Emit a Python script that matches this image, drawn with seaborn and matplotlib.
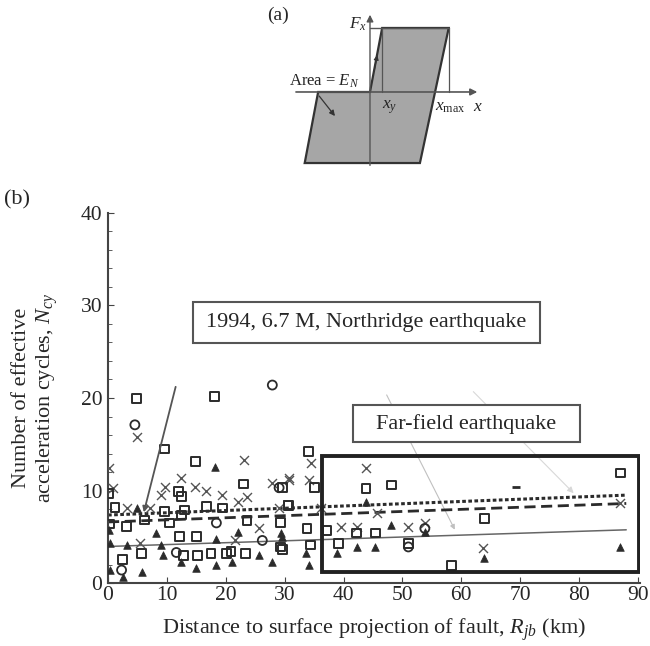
import matplotlib
matplotlib.use("Agg")
import matplotlib.pyplot as plt
import seaborn as sns
from matplotlib.patches import Rectangle, Polygon

# --- data (panel b) ---
sq_x = [4.85, 18.07, 9.63, 14.81, 22.97, 11.99, 30.57, 1.18, 0.05, 16.67, 19.43, 9.63, 12.45, 12.45,
        3.16, 10.47, 0.34, 6.25, 13.0, 29.3, 23.6, 2.5, 5.7, 15.0, 12.2, 17.5, 20.9, 23.4, 29.3,
        15.2, 12.8, 20.1, 34.1, 29.6, 30.7, 35.0, 43.8, 48.1, 33.8, 37.2, 42.2, 45.4, 39.2, 51.0,
        58.3, 29.6, 34.4, 87.0, 63.9]
sq_y = [19.97, 20.14, 14.49, 13.11, 10.70, 9.87, 8.43, 8.14, 9.70, 8.25, 8.11, 7.71, 9.33, 7.35,
        6.09, 6.49, 6.38, 6.81, 7.9, 6.5, 6.8, 2.5, 3.2, 5.0, 5.0, 3.2, 3.4, 3.2, 3.9,
        3.0, 3.0, 3.2, 14.2, 10.3, 8.4, 10.3, 10.2, 10.6, 5.9, 5.7, 5.4, 5.4, 4.3, 4.3,
        1.9, 3.6, 4.1, 11.9, 7.0]

cross_x = [4.85, 0.84, 12.45, 9.63, 14.7, 16.7, 19.4, 23.1, 22.0, 23.6, 27.9, 30.7, 3.16, 9.07,
           7.1, 0.2, 25.7, 5.4, 29.1, 21.5, 34.4, 30.7, 34.1, 43.8, 45.6, 39.5, 42.2, 51.0, 53.8,
           36.1, 63.7, 87.0]
cross_y = [15.8, 10.3, 11.35, 10.4, 10.4, 9.9, 9.5, 13.3, 8.8, 9.3, 10.8, 11.35, 8.1, 9.5,
           8.1, 12.4, 5.9, 4.3, 8.1, 4.6, 13.0, 11.1, 11.1, 12.4, 7.6, 6.1, 6.1, 6.1, 6.5,
           8.1, 3.75, 8.6]

tri_x = [18.1, 4.85, 0.34, 8.2, 3.16, 9.07, 2.5, 5.7, 9.3, 12.45, 15.0, 18.4, 21.1, 25.7, 27.9,
         29.3, 0.34, 22.0, 18.4, 0.1, 43.8, 48.1, 34.1, 38.9, 42.2, 45.4, 33.6, 29.6, 53.8, 63.9, 87.0]
tri_y = [12.5, 8.1, 4.3, 5.4, 4.1, 4.1, 0.65, 1.2, 3.0, 2.3, 1.6, 1.9, 2.3, 3.0, 2.3,
         5.4, 1.4, 5.5, 4.8, 5.7, 8.8, 6.3, 1.9, 3.2, 3.9, 3.9, 3.2, 5.0, 5.5, 2.7, 3.9]

circ_x = [4.56, 29.05, 26.2, 2.3, 11.6, 18.4, 27.9, 53.8, 51.0]
circ_y = [17.1, 10.3, 4.6, 1.4, 3.3, 6.5, 21.4, 5.9, 3.9]

dash_x = [69.3]
dash_y = [10.4]

# regression lines (end points)
fit_x = [0, 88]
dotted_y = [7.35, 9.5]
dashed_y = [6.6, 8.6]
solid_y = [3.95, 5.75]

x_ticks = [0, 10, 20, 30, 40, 50, 60, 70, 80, 90]
y_ticks = [0, 10, 20, 30, 40]

sns.set_style("ticks")
plt.rcParams["font.family"] = ["Liberation Serif", "DejaVu Serif"]
plt.rcParams["mathtext.fontset"] = "custom"
plt.rcParams["mathtext.rm"] = "Liberation Serif"
plt.rcParams["mathtext.it"] = "Liberation Serif:italic"

fig = plt.figure(figsize=(6.5, 6.46), dpi=100)

# ---------------- panel (b) ----------------
ax = fig.add_axes([0.1662, 0.0975, 0.819, 0.5728])
ink = "#2b2b2b"

sns.lineplot(x=fit_x, y=solid_y, ax=ax, color="#666666", lw=1.1, zorder=2)
sns.lineplot(x=fit_x, y=dashed_y, ax=ax, color=ink, lw=2.0, linestyle=(0, (4, 2)), zorder=2)
sns.lineplot(x=fit_x, y=dotted_y, ax=ax, color=ink, lw=2.2, linestyle=(0, (1.2, 0.8)), zorder=2)

sns.scatterplot(x=cross_x, y=cross_y, ax=ax, marker="x", color="#555555", s=42, linewidth=1.0, zorder=3)
sns.scatterplot(x=tri_x, y=tri_y, ax=ax, marker="^", color=ink, edgecolor=ink, s=30, linewidth=0.5, zorder=3)
sns.scatterplot(x=sq_x, y=sq_y, ax=ax, marker="s", facecolors="none", edgecolor=ink, s=40, linewidth=1.4, zorder=4)
sns.scatterplot(x=circ_x, y=circ_y, ax=ax, marker="o", facecolors="none", edgecolor=ink, s=42, linewidth=1.3, zorder=4)
sns.scatterplot(x=dash_x, y=dash_y, ax=ax, marker="_", color=ink, s=30, linewidth=2, zorder=4)

# leader lines
ax.annotate("", xy=(5.96, 7.35), xytext=(11.6, 21.5),
            arrowprops=dict(arrowstyle="-|>", color="#555555", lw=1.3, mutation_scale=8), zorder=5)
ax.annotate("", xy=(59.1, 5.5), xytext=(47.1, 20.6),
            arrowprops=dict(arrowstyle="-|>", color="#c0c0c0", lw=0.8, mutation_scale=7), zorder=1)
ax.annotate("", xy=(79.4, 9.5), xytext=(61.7, 20.9),
            arrowprops=dict(arrowstyle="-|>", color="#d8d8d8", lw=0.8, mutation_scale=9), zorder=1)

# far-field rectangle
ax.add_patch(Rectangle((36.4, 1.2), 53.7, 12.5, fill=False, ec="#222222", lw=2.8, zorder=5))

# text boxes
ax.add_patch(Rectangle((14.5, 25.9), 58.8, 4.5, fc="white", ec="#555555", lw=1.5, zorder=6))
ax.text(43.9, 28.2, "1994, 6.7 M, Northridge earthquake", ha="center", va="center",
        fontsize=16, zorder=7)
ax.add_patch(Rectangle((41.6, 15.2), 38.5, 4.0, fc="white", ec="#555555", lw=1.5, zorder=6))
ax.text(60.85, 17.2, "Far-field earthquake", ha="center", va="center",
        fontsize=16, zorder=7)

ax.set_xlim(0, 90.4)
ax.set_ylim(0, 40)
ax.set_xticks(x_ticks)
ax.set_yticks(y_ticks)
ax.set_yticks(range(0, 41, 2), minor=True)
ax.tick_params(axis="both", which="both", direction="in", labelsize=15.5, color="#444444")
ax.tick_params(axis="x", pad=2)
ax.tick_params(axis="y", pad=4)
ax.tick_params(which="major", length=4)
ax.tick_params(which="minor", length=3)
sns.despine(ax=ax)
for s in ["left", "bottom"]:
    ax.spines[s].set_linewidth(1.5)
    ax.spines[s].set_color("#444444")
ax.set_xlabel("Distance to surface projection of fault, $R_{jb}$ (km)", fontsize=16)
ax.set_ylabel("Number of effective\nacceleration cycles, $N_{cy}$", fontsize=16)
ax.xaxis.set_label_coords(0.5, -0.127)
ax.xaxis.label.set_va("center")
ax.yaxis.set_label_coords(-0.135, 0.5)
ax.yaxis.label.set_va("center")

fig.text(17 / 650, 1 - 200 / 646, "(b)", fontsize=16, ha="center", va="center")

# ---------------- panel (a) ----------------
axa = fig.add_axes([280 / 650, 1 - 175 / 646, 210 / 650, 170 / 646])
axa.set_xlim(-1.406, 1.875)
axa.set_ylim(-1.297, 1.359)
axa.axis("off")

x_y, x_max, f_top, f_bot = 0.19, 1.23, 1.0, -1.11
shape = [(0, 0), (x_y, f_top), (x_max, f_top), (0.78, f_bot), (-1.02, f_bot), (-0.81, 0)]
axa.add_patch(Polygon(shape, closed=True, fc="#a6a6a6", ec="#333333", lw=1.6, zorder=2))
axa.plot([0, x_max], [f_top, f_top], color="#555555", lw=1.0, zorder=3)
axa.plot([x_y, x_y], [0, f_top], color="#555555", lw=0.9, zorder=3)
axa.plot([x_max, x_max], [0, f_top], color="#555555", lw=0.9, zorder=3)
axa.annotate("", xy=(1.72, 0), xytext=(-1.2, 0),
             arrowprops=dict(arrowstyle="-|>", color="#555555", lw=1.2, mutation_scale=10), zorder=4)
axa.annotate("", xy=(0, 1.25), xytext=(0, -1.19),
             arrowprops=dict(arrowstyle="-|>", color="#555555", lw=1.0, mutation_scale=10), zorder=4)
axa.annotate("", xy=(0.12, 0.62), xytext=(0.06, 0.3),
             arrowprops=dict(arrowstyle="-|>", color="#333333", lw=0.8, mutation_scale=7), zorder=4)
axa.annotate("", xy=(-0.52, -0.41), xytext=(-0.82, -0.03),
             arrowprops=dict(arrowstyle="-|>", color="#333333", lw=0.9, mutation_scale=8), zorder=4)

axa.text(-0.19, 1.06, "$F_x$", fontsize=12.5, ha="center", va="center")
axa.text(-0.72, 0.17, "Area = $E_N$", fontsize=12, ha="center", va="center")
axa.text(0.3, -0.24, "$x_y$", fontsize=12.5, ha="center", va="center")
axa.text(1.25, -0.24, "$x_{\\rm max}$", fontsize=12.5, ha="center", va="center")
axa.text(1.69, -0.24, "$x$", fontsize=12.5, ha="center", va="center")

fig.text(278 / 650, 1 - 15 / 646, "(a)", fontsize=14, ha="center", va="center")

fig.savefig("out.png", dpi=100)
